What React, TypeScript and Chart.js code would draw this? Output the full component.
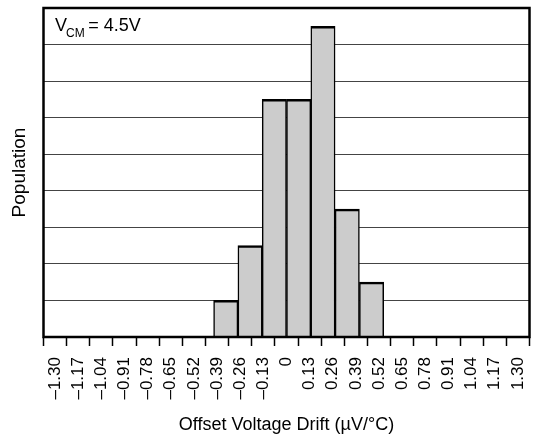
import { useEffect, useRef } from "react";
import { Chart, registerables } from "chart.js";

Chart.register(...registerables);

const FONT = '"Liberation Sans", Arial, Helvetica, sans-serif';

const tickValues = [
  -1.3, -1.17, -1.04, -0.91, -0.78, -0.65, -0.52, -0.39, -0.26, -0.13, 0,
  0.13, 0.26, 0.39, 0.52, 0.65, 0.78, 0.91, 1.04, 1.17, 1.3,
];
const tickLabels = [
  "–1.30", "–1.17", "–1.04", "–0.91", "–0.78", "–0.65", "–0.52", "–0.39", "–0.26", "–0.13", "0",
  "0.13", "0.26", "0.39", "0.52", "0.65", "0.78", "0.91", "1.04", "1.17", "1.30",
];
const binLabels = tickLabels.slice(0, -1).map((l, i) => `${l} to ${tickLabels[i + 1]}`);
const populationCounts = [0, 0, 0, 0, 0, 0, 0, 1, 2.5, 6.5, 6.5, 8.5, 3.5, 1.5, 0, 0, 0, 0, 0, 0];
const yMin = 0;
const yMax = 9;
const xTitle = "Offset Voltage Drift (µV/°C)";
const yTitle = "Population";
const noteMain = "V";
const noteSub = "CM";
const noteRest = "= 4.5V";

const framePlugin = {
  id: "frame",
  afterDatasetsDraw(chart: any) {
    const { ctx, chartArea } = chart;
    const { left, top, right, bottom } = chartArea;
    ctx.save();
    ctx.strokeStyle = "#000";
    ctx.lineWidth = 2.5;
    ctx.strokeRect(left, top, right - left, bottom - top);
    ctx.restore();
  },
  afterDraw(chart: any) {
    const { ctx, chartArea } = chart;
    ctx.save();
    ctx.fillStyle = "#000";
    ctx.textBaseline = "alphabetic";
    ctx.textAlign = "left";
    const x0 = chartArea.left + 11.5;
    const base = chartArea.top + 22.7;
    ctx.font = `18px ${FONT}`;
    ctx.fillText(noteMain, x0, base);
    const w1 = ctx.measureText(noteMain).width;
    ctx.font = `12px ${FONT}`;
    ctx.fillText(noteSub, x0 + w1 - 1, base + 6);
    const w2 = ctx.measureText(noteSub).width;
    ctx.font = `18px ${FONT}`;
    ctx.fillText(noteRest, x0 + w1 - 1 + w2 + 3.5, base);
    ctx.restore();
  },
};

export default function App() {
  const ref = useRef<HTMLCanvasElement>(null);
  useEffect(() => {
    const canvas = ref.current;
    if (!canvas) return;
    const chart = new Chart(canvas, {
      type: "bar",
      data: {
        labels: binLabels,
        datasets: [
          {
            data: populationCounts,
            xAxisID: "xb",
            yAxisID: "y",
            backgroundColor: "#cccccc",
            borderColor: "#000",
            borderWidth: { top: 2.5, left: 1.5, right: 1.5, bottom: 0 },
            barPercentage: 1,
            categoryPercentage: 1,
          },
        ],
      },
      options: {
        animation: false,
        responsive: true,
        maintainAspectRatio: false,
        layout: { padding: { left: 0, top: 8, right: 6.5, bottom: 0 } },
        plugins: { legend: { display: false }, tooltip: { enabled: false } },
        scales: {
          xb: { type: "category", display: false, offset: true },
          x: {
            type: "linear",
            position: "bottom",
            min: tickValues[0],
            max: tickValues[tickValues.length - 1],
            afterBuildTicks: (s: any) => {
              s.ticks = tickValues.map((v) => ({ value: v }));
            },
            afterFit: (s: any) => {
              s.height = 97;
              s.paddingLeft = 0;
              s.paddingRight = 0;
            },
            ticks: {
              autoSkip: false,
              maxRotation: 90,
              minRotation: 90,
              padding: 11,
              color: "#000",
              font: { family: FONT, size: 17 },
              callback: (_v: any, i: number) => tickLabels[i],
            },
            grid: {
              drawOnChartArea: false,
              drawTicks: true,
              tickLength: 9,
              tickColor: "#000",
              tickWidth: 1.5,
            },
            border: { display: false },
            title: {
              display: true,
              text: xTitle,
              color: "#000",
              font: { family: FONT, size: 18, lineHeight: 1 },
              padding: { top: 0, bottom: 0 },
            },
          },
          y: {
            type: "linear",
            min: yMin,
            max: yMax,
            afterFit: (s: any) => {
              s.width = 43.5;
              s.paddingTop = 0;
              s.paddingBottom = 0;
            },
            ticks: { display: false, stepSize: 1 },
            grid: { color: "#444", lineWidth: 1, drawTicks: false },
            border: { display: false },
            title: {
              display: true,
              text: yTitle,
              color: "#000",
              font: { family: FONT, size: 19, lineHeight: 1 },
              padding: { top: 10.5, bottom: 0 },
            },
          },
        },
      } as any,
      plugins: [framePlugin],
    });
    return () => chart.destroy();
  }, []);
  return (
    <div style={{ position: "absolute", left: 0, top: 0, width: 536, height: 434, background: "#fff" }}>
      <canvas ref={ref} />
    </div>
  );
}
